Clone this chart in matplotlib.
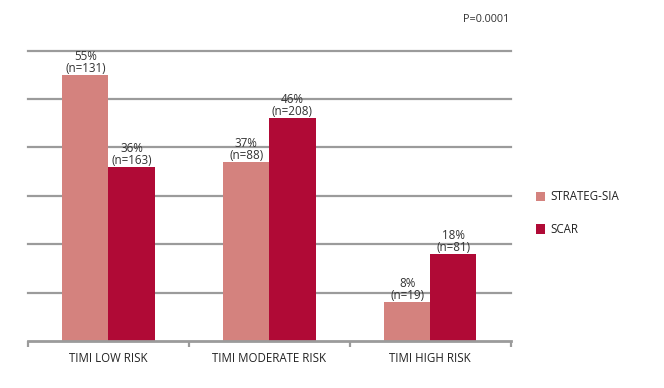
import matplotlib.pyplot as plt
import numpy as np

plt.rcParams['font.family'] = ['Open Sans', 'DejaVu Sans']

# data
categories = ['TIMI LOW RISK', 'TIMI MODERATE RISK', 'TIMI HIGH RISK']
series = ['STRATEG-SIA', 'SCAR']
strateg_pct = [55, 37, 8]
strateg_n = [131, 88, 19]
scar_pct = [36, 46, 18]
scar_n = [163, 208, 81]

colors = ['#D4827E', '#B00A36']
grid_color = '#9B9B9B'
text_color = '#333333'

fig = plt.figure(figsize=(6.64, 3.88), dpi=100)
ax = fig.add_axes([0.0422, 0.1211, 0.7270, 0.7482])

x = np.arange(len(categories))
w = 0.287

b1 = ax.bar(x - w / 2, strateg_pct, w, color=colors[0], zorder=3, label=series[0])
b2 = ax.bar(x + w / 2, scar_pct, w, color=colors[1], zorder=3, label=series[1])

for bars, pct, n in [(b1, strateg_pct, strateg_n), (b2, scar_pct, scar_n)]:
    for rect, p, k in zip(bars, pct, n):
        ax.annotate(f'{p}%\n(n={k})', (rect.get_x() + rect.get_width() / 2, rect.get_height()),
                    textcoords='offset points', xytext=(0, 0), ha='center', va='bottom',
                    fontsize=8.4, color=text_color, linespacing=0.9, zorder=4)

ax.set_xlim(-0.5, len(categories) - 0.5)
ax.set_ylim(0, 60)
ax.set_yticks(np.arange(10, 61, 10))
ax.yaxis.grid(True, color=grid_color, linewidth=1.6, zorder=0)
for gl in ax.get_ygridlines():
    gl.set_clip_on(False)
ax.tick_params(axis='y', left=False, labelleft=False)

ax.set_xticks(x)
ax.set_xticklabels(categories, fontsize=8.3, color='#222222')
ax.set_xticks(np.arange(-0.5, len(categories), 1), minor=True)
ax.tick_params(axis='x', which='major', length=0, pad=8)
ax.tick_params(axis='x', which='minor', length=4, width=1.6, color=grid_color, direction='out')

for s in ['top', 'right', 'left']:
    ax.spines[s].set_visible(False)
ax.spines['bottom'].set_color(grid_color)
ax.spines['bottom'].set_linewidth(2)
ax.spines['bottom'].set_zorder(5)

fig.text(0.767, 0.951, 'P=0.0001', ha='right', va='center', fontsize=7.8, color=text_color)

ax.legend(loc='center left', bbox_to_anchor=(1.03, 0.44), frameon=False, fontsize=8.3,
          handlelength=0.85, handleheight=0.85, labelspacing=1.7, handletextpad=0.45,
          labelcolor='#222222')

plt.savefig('out.png', dpi=100, facecolor='white')
